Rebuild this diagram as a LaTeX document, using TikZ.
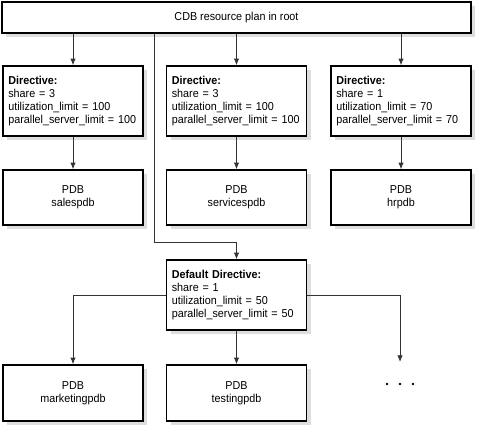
\documentclass[tikz,border=0pt]{standalone}
\usepackage{fontspec}
\setmainfont[FakeStretch=0.94]{Liberation Sans}
\usetikzlibrary{shadows,arrows.meta}
\begin{document}
\begin{tikzpicture}[x=0.75pt,y=-0.75pt,
 box/.style={draw=black, line width=1.1pt, fill=white, rectangle, inner sep=0pt,
   drop shadow={shadow xshift=3pt,shadow yshift=-3pt,fill=black!13,opacity=1},
   font=\fontsize{8.6}{9.6}\selectfont},
 dirbox/.style={box, minimum width=105pt, minimum height=52.5pt, text width=97pt, align=left},
 pdbbox/.style={box, minimum width=105pt, minimum height=41.25pt, align=center},
 conn/.style={draw=black!80, line width=0.6pt},
 arr/.style={conn, -{Latex[length=5pt,width=4pt]}}
]
\useasboundingbox (0,0) rectangle (477,426);
\node[box, minimum width=351.75pt, minimum height=23.25pt] (root) at (236.5,17.5) {CDB resource plan in root};

\node[dirbox] (d1) at (73,101) {\textbf{Directive:}\\share = 3\\utilization\_limit = 100\\parallel\_server\_limit~=~100};
\node[dirbox] (d2) at (236.5,101) {\textbf{Directive:}\\share = 3\\utilization\_limit = 100\\parallel\_server\_limit~=~100};
\node[dirbox] (d3) at (401,101) {\textbf{Directive:}\\share = 1\\utilization\_limit = 70\\parallel\_server\_limit~=~70};

\node[pdbbox] (p1) at (73,197.5) {PDB\\salespdb};
\node[pdbbox] (p2) at (236.5,197.5) {PDB\\servicespdb};
\node[pdbbox] (p3) at (401,197.5) {PDB\\hrpdb};

\node[dirbox] (dd) at (236.5,295) {\textbf{Default Directive:}\\share = 1\\utilization\_limit = 50\\parallel\_server\_limit~=~50};

\node[pdbbox, minimum height=42pt] (pm) at (73,393) {PDB\\marketingpdb};
\node[pdbbox, minimum height=42pt] (pt) at (236.5,393) {PDB\\testingpdb};

\coordinate (bend) at (154,242);
\coordinate (more) at (400,362);

\draw[arr] (root.south -| d1.north) -- (d1.north);
\draw[arr] (root.south -| d2.north) -- (d2.north);
\draw[arr] (root.south -| d3.north) -- (d3.north);
\draw[arr] (d1.south) -- (p1.north);
\draw[arr] (d2.south) -- (p2.north);
\draw[arr] (d3.south) -- (p3.north);
\draw[arr] (root.south -| bend) -- (bend) -| (dd.north);
\draw[arr] (dd.west) -| (pm.north);
\draw[arr] (dd.south) -- (pt.north);
\draw[arr] (dd.east) -| (more);

\fill (387,384) circle (1.1pt);
\fill (400,384) circle (1.1pt);
\fill (413,384) circle (1.1pt);
\end{tikzpicture}
\end{document}
